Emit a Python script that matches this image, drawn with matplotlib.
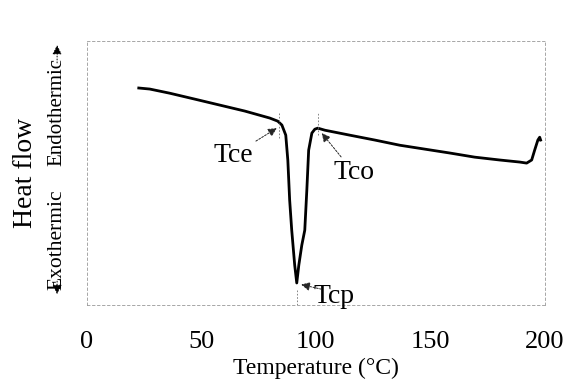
import numpy as np
import matplotlib.pyplot as plt

plt.rcParams['font.family'] = ['Liberation Serif', 'DejaVu Serif']

# DSC cooling trace (temperature in deg C, heat flow in arbitrary units)
temp = [22.7, 27.5, 36.2, 47.2, 58.1, 69.0, 79.9, 83.4, 85.2, 86.9, 87.8, 88.6,
        89.5, 90.8, 91.7, 92.6, 93.9, 95.2, 96.1, 96.9, 98.3, 99.6, 100.9, 104.0,
        114.8, 125.8, 136.7, 147.6, 158.5, 169.4, 180.3, 189.1, 192.1, 194.3,
        195.6, 197.0, 197.8, 198.2]
heat_flow = [8.19, 8.15, 7.99, 7.76, 7.53, 7.30, 7.03, 6.91, 6.76, 6.37, 5.40, 3.86,
             2.70, 1.35, 0.66, 1.35, 2.12, 2.70, 4.25, 5.79, 6.45, 6.60, 6.64, 6.56,
             6.37, 6.18, 5.98, 5.83, 5.68, 5.52, 5.41, 5.33, 5.29, 5.41,
             5.79, 6.18, 6.29, 6.18]

# characteristic crystallization temperatures
t_ce = 83.8
t_cp = 91.7
t_co = 100.9

fig = plt.figure(figsize=(5.71, 3.81), dpi=100)
ax = fig.add_axes([0.152, 0.1995, 0.802, 0.6925])

ax.plot(temp, heat_flow, color='black', lw=2.0, solid_joinstyle='round')

# short guide marks at Tce, Tco, Tcp
ax.plot([t_ce, t_ce], [6.25, 7.26], color='0.45', lw=0.6, ls=(0, (2, 2)))
ax.plot([t_co, t_co], [6.37, 7.26], color='0.45', lw=0.6, ls=(0, (2, 2)))
ax.plot([t_cp, t_cp], [-0.19, 0.39], color='0.45', lw=0.6, ls=(0, (2, 2)))

arrow = dict(arrowstyle='-|>', color='0.15', lw=0.7, ls=(0, (2, 1.5)),
             mutation_scale=13, shrinkA=0, shrinkB=0)
ax.annotate('Tce', xy=(83.0, 6.64), xytext=(64.0, 5.6), fontsize=20,
            ha='center', va='center', arrowprops=arrow)
ax.annotate('Tco', xy=(102.6, 6.45), xytext=(116.5, 4.94), fontsize=20,
            ha='center', va='center', arrowprops=arrow)
ax.annotate('Tcp', xy=(107.8, 0.12), xytext=(107.8, 0.12), fontsize=20,
            ha='center', va='center')
ax.annotate('', xy=(93.6, 0.6), xytext=(102.5, 0.42), arrowprops=arrow)

ax.set_xlim(0, 200)
ax.set_ylim(-0.19, 10)
ax.set_xticks([0, 50, 100, 150, 200])
ax.set_yticks([])
ax.tick_params(axis='x', length=0, labelsize=19, pad=19)
ax.set_xlabel('Temperature (°C)', fontsize=17, labelpad=3)

for s in ax.spines.values():
    s.set_color('0.6')
    s.set_linewidth(0.6)
    s.set_linestyle((0, (3, 3)))

# y-axis labels with direction arrows
fig.text(0.045, 0.546, 'Heat flow', rotation=90, fontsize=20,
         ha='center', va='center')
fig.text(0.1, 0.37, 'Exothermic', rotation=90, fontsize=15.5,
         ha='center', va='center')
fig.text(0.1, 0.705, 'Endothermic', rotation=90, fontsize=15,
         ha='center', va='center')
head = dict(arrowstyle='-|>', color='black', lw=0.7, ls=(0, (1, 2)),
            mutation_scale=14, shrinkA=0, shrinkB=0)
ax.annotate('', xy=(0.1, 0.882), xytext=(0.1, 0.835), xycoords='figure fraction',
            arrowprops=head)
ax.annotate('', xy=(0.1, 0.228), xytext=(0.1, 0.262), xycoords='figure fraction',
            arrowprops=head)

fig.savefig('out.png', dpi=100)
